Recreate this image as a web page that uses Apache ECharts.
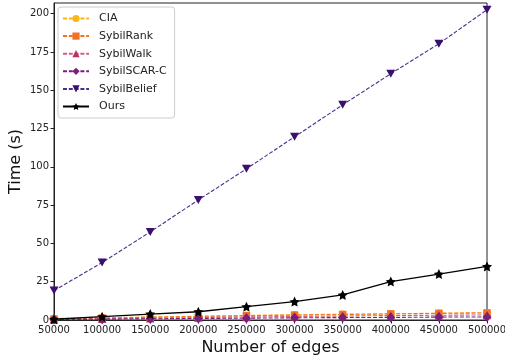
<!DOCTYPE html>
<html>
<head>
<meta charset="utf-8">
<script src="https://cdn.jsdelivr.net/npm/echarts@6/dist/echarts.min.js"></script>
<style>html,body{margin:0;padding:0;background:#fff}#c{width:505px;height:362px}</style>
</head>
<body>
<div id="c"></div>
<script>
var edges = [50000, 100000, 150000, 200000, 250000, 300000, 350000, 400000, 450000, 500000];
var cia = [1.0, 1.5, 2.0, 2.5, 3.0, 3.5, 3.8, 4.0, 4.5, 4.8];
var sybilRank = [0.6, 1.2, 1.8, 2.3, 2.8, 3.2, 3.6, 4.0, 4.3, 4.6];
var sybilWalk = [0.4, 0.8, 1.2, 1.6, 2.0, 2.3, 2.6, 2.9, 3.1, 3.3];
var sybilScarC = [0.3, 0.5, 0.8, 1.0, 1.2, 1.4, 1.6, 1.7, 1.9, 2.0];
var sybilBelief = [19.2, 37.5, 57.5, 78.4, 98.7, 119.6, 140.5, 160.8, 180.4, 202.6];
var ours = [0.5, 2.2, 3.9, 5.4, 8.7, 12.0, 16.4, 25.1, 30.0, 35.0];

function pairs(ys) { return edges.map(function (x, i) { return [x, ys[i]]; }); }

var STAR = 'path://M0,-10 L2.94,-4.05 L9.51,-3.09 L4.76,1.55 L5.88,8.09 L0,5 L-5.88,8.09 L-4.76,1.55 L-9.51,-3.09 L-2.94,-4.05 Z';
var TRI_DOWN = 'path://M0,0 L10,0 L5,9 Z';

function mk(name, data, color, lineColor, symbol, size, dashed) {
  return {
    name: name, type: 'line', data: pairs(data),
    symbol: symbol, symbolSize: size, showSymbol: true,
    itemStyle: { color: color },
    lineStyle: { color: lineColor, width: dashed ? 1.1 : 1.3, type: dashed ? [4, 1.8] : 'solid' },
    emphasis: { disabled: true }, animation: false
  };
}

var chart = echarts.init(document.getElementById('c'), null, { renderer: 'canvas' });
chart.setOption({
  animation: false,
  textStyle: { fontFamily: 'DejaVu Sans' },
  grid: { left: 54, right: 18, top: 3, bottom: 42, outerBoundsMode: 'none', containLabel: false,
          show: true, borderColor: '#222', borderWidth: 1, backgroundColor: 'transparent' },
  legend: {
    orient: 'vertical', left: 58, top: 7,
    itemWidth: 26, itemHeight: 9, itemGap: 6.6,
    padding: [6, 8, 6, 4],
    borderColor: '#ccc', borderWidth: 1, borderRadius: 3, backgroundColor: 'rgba(255,255,255,0.8)',
    textStyle: { fontSize: 11, color: '#222', fontFamily: 'DejaVu Sans', padding: [0, 0, 0, 5] },
    data: ['CIA', 'SybilRank', 'SybilWalk', 'SybilSCAR-C', 'SybilBelief', 'Ours']
  },
  xAxis: {
    type: 'value', min: 50000, max: 500000, interval: 50000,
    name: 'Number of edges', nameLocation: 'middle', nameGap: 19,
    nameTextStyle: { fontSize: 16, color: '#111', fontFamily: 'DejaVu Sans' },
    axisLine: { show: true, lineStyle: { color: '#222' } },
    axisTick: { show: true, length: 3.5, lineStyle: { color: '#222' } },
    axisLabel: { fontSize: 10, color: '#222', margin: 5, formatter: function (v) { return String(v); } },
    splitLine: { show: false }
  },
  yAxis: {
    type: 'value', min: 0, max: 207, interval: 25,
    name: 'Time (s)', nameLocation: 'middle', nameGap: 30, nameMoveOverlap: false,
    nameTextStyle: { fontSize: 16, color: '#111', fontFamily: 'DejaVu Sans' },
    axisLine: { show: true, lineStyle: { color: '#222' } },
    axisTick: { show: true, length: 3.5, lineStyle: { color: '#222' } },
    axisLabel: { fontSize: 10, color: '#222', margin: 5, showMaxLabel: false },
    splitLine: { show: false }
  },
  series: [
    mk('CIA', cia, '#fcb519', '#fcb519', 'circle', 7.5, true),
    mk('SybilRank', sybilRank, '#f37124', '#f37124', 'rect', 7.5, true),
    mk('SybilWalk', sybilWalk, '#b8345e', '#d0607f', 'triangle', 8.5, true),
    mk('SybilSCAR-C', sybilScarC, '#7a1f7e', '#7a1f7e', 'diamond', [9, 10], true),
    mk('SybilBelief', sybilBelief, '#3b0f70', '#4b2f8a', TRI_DOWN, [9, 8], true),
    mk('Ours', ours, '#000', '#000', STAR, 10, false)
  ]
});
</script>
</body>
</html>
